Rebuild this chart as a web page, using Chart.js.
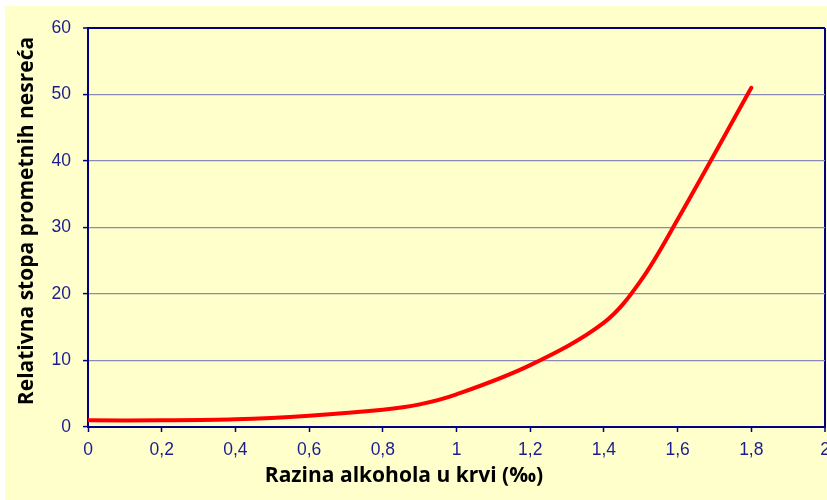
<!DOCTYPE html>
<html>
<head>
<meta charset="utf-8">
<script src="https://cdn.jsdelivr.net/npm/chart.js@4/dist/chart.umd.min.js"></script>
<style>
  html, body { margin: 0; padding: 0; background: #ffffff; }
  canvas { display: block; }
</style>
</head>
<body>
<canvas id="chart" width="827" height="500"></canvas>
<script>
// Blood alcohol level (per mille) and relative traffic accident rate
const alcoholLevels = [0, 0.2, 0.4, 0.6, 0.8, 0.9, 1.0, 1.2, 1.4, 1.5, 1.6, 1.8];
const relativeRisk  = [1.0, 1.0, 1.15, 1.7, 2.6, 3.4, 4.9, 9.3, 15.7, 22, 31.2, 51];

const xTickLabels = ['0', '0,2', '0,4', '0,6', '0,8', '1', '1,2', '1,4', '1,6', '1,8', '2'];
const yTickLabels = ['0', '10', '20', '30', '40', '50', '60'];

const xTitle = 'Razina alkohola u krvi (‰)';
const yTitle = 'Relativna stopa prometnih nesreća';

const NAVY = '#000080';
const TICK_TEXT = '#1c1c90';
const GRID = '#8a8ab8';
const PANEL = '#FFFFCC';

const points = alcoholLevels.map((x, i) => ({ x, y: relativeRisk[i] }));

// Page backdrop: white margin on top/left, pale yellow panel elsewhere
const backdrop = {
  id: 'backdrop',
  beforeDraw(chart) {
    const { ctx, width, height } = chart;
    ctx.save();
    ctx.fillStyle = '#ffffff';
    ctx.fillRect(0, 0, width, height);
    ctx.fillStyle = PANEL;
    ctx.fillRect(5, 6, width - 5, height - 6);
    ctx.restore();
  }
};

// Axis titles, bold black
const axisTitles = {
  id: 'axisTitles',
  afterDraw(chart) {
    const { ctx } = chart;
    ctx.save();
    ctx.fillStyle = '#000000';
    ctx.font = 'bold 21px "Open Sans", Lato, sans-serif';
    ctx.textAlign = 'center';
    ctx.textBaseline = 'middle';
    ctx.fillText(xTitle, 404, 476);
    ctx.translate(27, 221);
    ctx.rotate(-Math.PI / 2);
    ctx.fillText(yTitle, 0, 0);
    ctx.restore();
  }
};

const tickFont = { family: '"Liberation Sans", Arial, sans-serif', size: 17.5 };

new Chart(document.getElementById('chart'), {
  type: 'scatter',
  data: {
    datasets: [{
      data: points,
      showLine: true,
      borderColor: '#FF0000',
      borderWidth: 4,
      borderCapStyle: 'round',
      borderJoinStyle: 'round',
      pointRadius: 0,
      pointHoverRadius: 0,
      tension: 0.35,
      fill: false
    }]
  },
  options: {
    responsive: false,
    animation: false,
    events: [],
    layout: { padding: { left: 0, top: 28, right: 2, bottom: 0 } },
    plugins: {
      legend: { display: false },
      tooltip: { enabled: false }
    },
    scales: {
      x: {
        type: 'linear',
        min: 0,
        max: 2,
        afterFit(scale) {
          scale.height = 73;
          scale.paddingLeft = 0;
          scale.paddingRight = 0;
        },
        ticks: {
          stepSize: 0.2,
          color: TICK_TEXT,
          font: tickFont,
          padding: 8,
          maxRotation: 0,
          autoSkip: false,
          callback: (v, i) => xTickLabels[i]
        },
        grid: {
          drawOnChartArea: true,
          color: (c) => (c.index === xTickLabels.length - 1 ? NAVY : 'rgba(0,0,0,0)'),
          lineWidth: (c) => (c.index === xTickLabels.length - 1 ? 2 : 1),
          tickColor: NAVY,
          tickLength: 5,
          tickWidth: 1.5
        },
        border: { display: true, color: NAVY, width: 2 }
      },
      y: {
        type: 'linear',
        min: 0,
        max: 60,
        afterFit(scale) {
          scale.width = 88;
          scale.paddingTop = 0;
          scale.paddingBottom = 0;
        },
        ticks: {
          stepSize: 10,
          color: TICK_TEXT,
          font: tickFont,
          padding: 12,
          callback: (v, i) => yTickLabels[i]
        },
        grid: {
          color: (c) => (c.index === yTickLabels.length - 1 ? NAVY : GRID),
          lineWidth: (c) => (c.index === yTickLabels.length - 1 ? 2 : 1.2),
          tickColor: NAVY,
          tickLength: 5,
          tickWidth: 1.5
        },
        border: { display: true, color: NAVY, width: 2 }
      }
    }
  },
  plugins: [backdrop, axisTitles]
});
</script>
</body>
</html>
